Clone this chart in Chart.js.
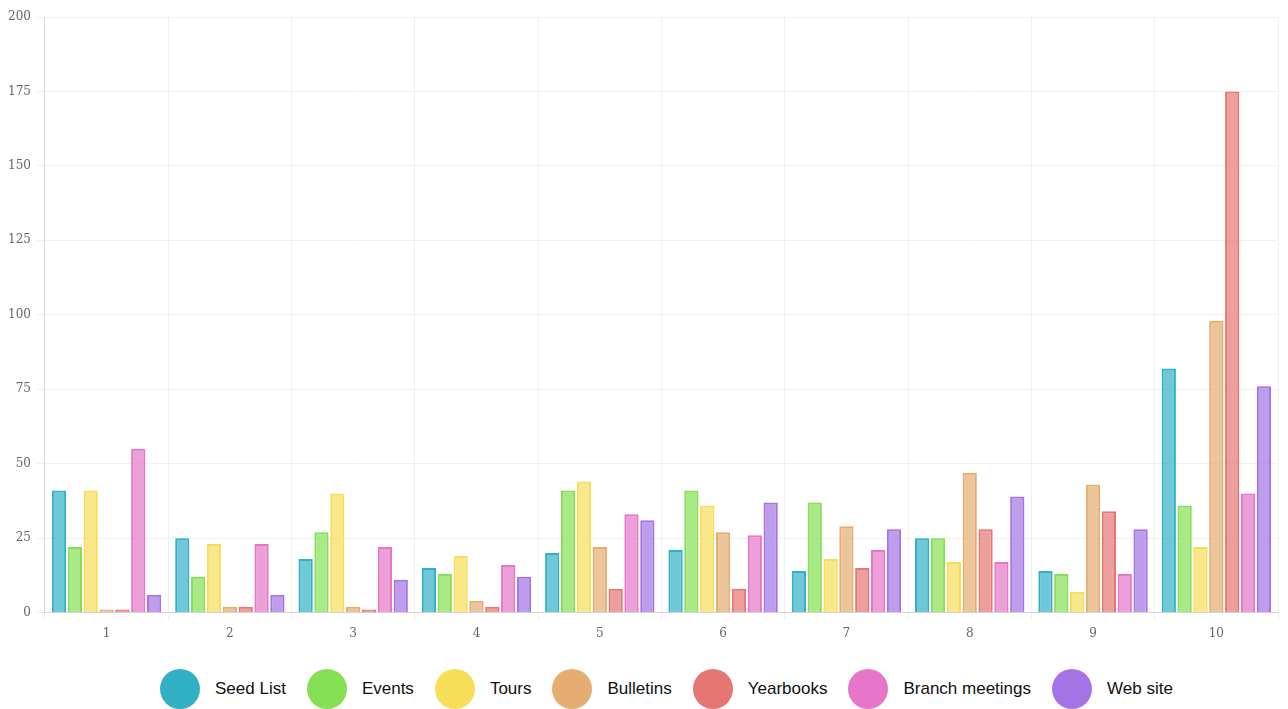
<!DOCTYPE html>
<html>
<head>
<meta charset="utf-8">
<script src="https://cdn.jsdelivr.net/npm/chart.js@4"></script>
<style>
  html, body { margin: 0; padding: 0; background: #fff; }
  body { width: 1288px; height: 709px; overflow: hidden; position: relative; }
  #wrap { position: absolute; left: 0; top: 0; width: 1288px; height: 652px; }
  #legend {
    position: absolute; left: 160px; top: 669px; display: flex; align-items: center;
    font-family: "Liberation Sans", Arial, sans-serif; font-size: 17px; color: #111;
  }
  .item { display: flex; align-items: center; margin-right: 21px; }
  .dot { width: 40px; height: 40px; border-radius: 50%; margin-right: 15px; }
</style>
</head>
<body>
<div id="wrap"><canvas id="chart"></canvas></div>
<div id="legend"></div>
<script>
const categories = ["1", "2", "3", "4", "5", "6", "7", "8", "9", "10"];
const seriesNames = ["Seed List", "Events", "Tours", "Bulletins", "Yearbooks", "Branch meetings", "Web site"];
const seedList = [41, 25, 18, 15, 20, 21, 14, 25, 14, 82];
const events = [22, 12, 27, 13, 41, 41, 37, 25, 13, 36];
const tours = [41, 23, 40, 19, 44, 36, 18, 17, 7, 22];
const bulletins = [1, 2, 2, 4, 22, 27, 29, 47, 43, 98];
const yearbooks = [1, 2, 1, 2, 8, 8, 15, 28, 34, 175];
const branchMeetings = [55, 23, 22, 16, 33, 26, 21, 17, 13, 40];
const webSite = [6, 6, 11, 12, 31, 37, 28, 39, 28, 76];
const yTicks = [0, 25, 50, 75, 100, 125, 150, 175, 200];

const colors = [
  [50, 176, 198],
  [133, 224, 83],
  [246, 222, 89],
  [229, 173, 113],
  [230, 118, 115],
  [230, 118, 200],
  [164, 116, 230],
];
const values = [seedList, events, tours, bulletins, yearbooks, branchMeetings, webSite];

const datasets = seriesNames.map((name, i) => ({
  label: name,
  data: values[i],
  backgroundColor: `rgba(${colors[i].join(",")},0.7)`,
  borderColor: `rgb(${colors[i].join(",")})`,
  borderWidth: 2,
  categoryPercentage: 0.9,
  barPercentage: 0.9,
}));

new Chart(document.getElementById("chart"), {
  type: "bar",
  data: { labels: categories, datasets },
  options: {
    responsive: true,
    maintainAspectRatio: false,
    animation: false,
    layout: { padding: { left: 2, right: 10, top: 17, bottom: 5 } },
    plugins: { legend: { display: false }, tooltip: { enabled: false } },
    scales: {
      x: {
        grid: { color: "rgba(0,0,0,0.06)", tickLength: 8 },
        border: { color: "rgba(0,0,0,0.12)" },
        ticks: { color: "#666", padding: 6, font: { family: "DejaVu Serif", size: 12 } },
      },
      y: {
        min: yTicks[0],
        max: yTicks[yTicks.length - 1],
        afterBuildTicks: (axis) => { axis.ticks = yTicks.map(v => ({ value: v })); },
        grid: { color: "rgba(0,0,0,0.06)", tickLength: 8 },
        border: { color: "rgba(0,0,0,0.12)" },
        ticks: { color: "#666", padding: 6, font: { family: "DejaVu Serif", size: 12 } },
      },
    },
  },
});

const legend = document.getElementById("legend");
seriesNames.forEach((name, i) => {
  const item = document.createElement("div");
  item.className = "item";
  const dot = document.createElement("span");
  dot.className = "dot";
  dot.style.background = `rgb(${colors[i].join(",")})`;
  const label = document.createElement("span");
  label.textContent = name;
  item.appendChild(dot);
  item.appendChild(label);
  legend.appendChild(item);
});
</script>
</body>
</html>
